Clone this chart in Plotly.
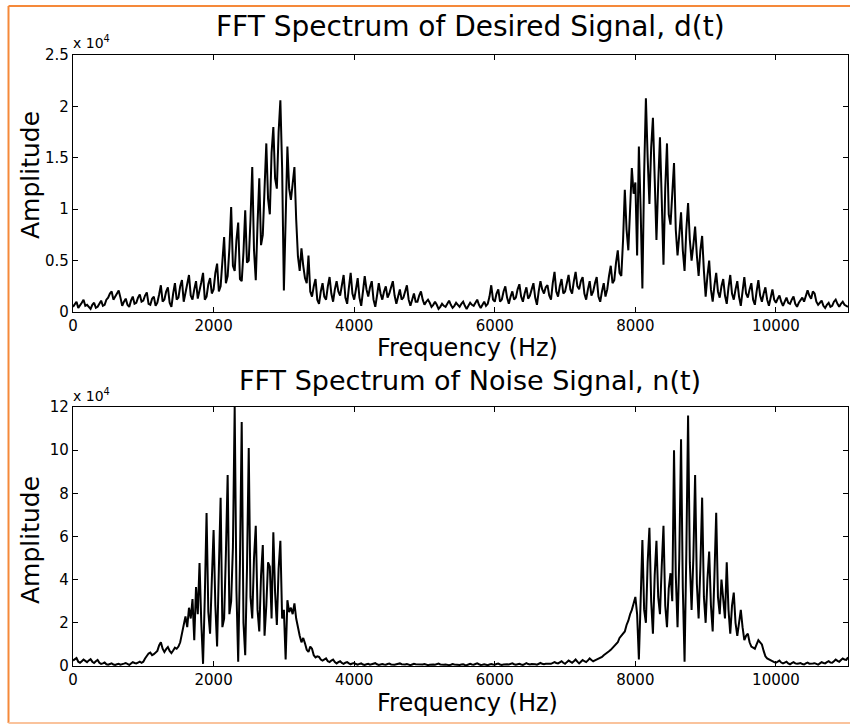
import plotly.graph_objects as go

W, H = 850, 725
FREQ_STEP = 25  # Hz between spectrum bins

# FFT amplitude of desired signal d(t), units of 1e4, bins 0..11025 Hz every 25 Hz (20 per row = 500 Hz)
desired_amp = [
    0.05, 0.08, 0.10, 0.04, 0.06, 0.09, 0.12, 0.06, 0.07, 0.05, 0.03, 0.07, 0.09, 0.04, 0.05, 0.08, 0.11, 0.06, 0.07, 0.12,
    0.14, 0.18, 0.20, 0.12, 0.15, 0.19, 0.21, 0.14, 0.06, 0.10, 0.13, 0.07, 0.05, 0.11, 0.15, 0.08, 0.09, 0.14, 0.17, 0.10,
    0.11, 0.16, 0.19, 0.08, 0.07, 0.13, 0.15, 0.06, 0.09, 0.17, 0.26, 0.10, 0.12, 0.20, 0.24, 0.09, 0.05, 0.18, 0.28, 0.12,
    0.14, 0.25, 0.31, 0.10, 0.18, 0.28, 0.36, 0.16, 0.12, 0.22, 0.30, 0.13, 0.20, 0.29, 0.38, 0.12, 0.15, 0.27, 0.33, 0.18,
    0.22, 0.38, 0.47, 0.20, 0.25, 0.55, 0.73, 0.28, 0.35, 0.62, 1.02, 0.45, 0.40, 0.70, 0.87, 0.32, 0.30, 0.58, 0.99, 0.48,
    0.50, 0.90, 1.41, 0.60, 0.31, 0.85, 1.30, 0.65, 0.75, 1.20, 1.64, 1.10, 0.95, 1.55, 1.80, 1.30, 1.20, 1.75, 2.06, 1.40,
    0.21, 0.90, 1.61, 1.20, 1.09, 1.25, 1.41, 0.90, 0.54, 0.40, 0.62, 0.45, 0.33, 0.28, 0.55, 0.20, 0.15, 0.25, 0.32, 0.12,
    0.08, 0.20, 0.28, 0.15, 0.12, 0.25, 0.34, 0.18, 0.10, 0.22, 0.30, 0.20, 0.16, 0.26, 0.36, 0.14, 0.08, 0.24, 0.38, 0.18,
    0.12, 0.22, 0.33, 0.14, 0.06, 0.20, 0.35, 0.22, 0.15, 0.24, 0.30, 0.12, 0.05, 0.16, 0.28, 0.18, 0.12, 0.20, 0.25, 0.14,
    0.18, 0.24, 0.30, 0.16, 0.08, 0.15, 0.22, 0.12, 0.14, 0.20, 0.26, 0.12, 0.06, 0.12, 0.18, 0.10, 0.10, 0.16, 0.20, 0.12,
    0.07, 0.10, 0.12, 0.09, 0.05, 0.07, 0.10, 0.07, 0.03, 0.05, 0.08, 0.06, 0.05, 0.08, 0.11, 0.07, 0.04, 0.06, 0.09, 0.07,
    0.05, 0.08, 0.10, 0.06, 0.03, 0.06, 0.09, 0.07, 0.06, 0.09, 0.12, 0.07, 0.04, 0.07, 0.10, 0.06, 0.08, 0.15, 0.26, 0.12,
    0.10, 0.18, 0.22, 0.10, 0.12, 0.20, 0.25, 0.14, 0.08, 0.15, 0.20, 0.12, 0.14, 0.22, 0.27, 0.15, 0.10, 0.18, 0.24, 0.13,
    0.16, 0.22, 0.28, 0.14, 0.07, 0.20, 0.30, 0.22, 0.18, 0.24, 0.26, 0.16, 0.12, 0.28, 0.39, 0.20, 0.15, 0.25, 0.32, 0.18,
    0.20, 0.28, 0.36, 0.22, 0.18, 0.30, 0.39, 0.25, 0.22, 0.30, 0.34, 0.18, 0.12, 0.22, 0.30, 0.16, 0.20, 0.28, 0.34, 0.15,
    0.10, 0.20, 0.28, 0.15, 0.22, 0.35, 0.45, 0.28, 0.31, 0.48, 0.60, 0.38, 0.35, 0.70, 1.19, 0.80, 0.60, 1.00, 1.40, 1.15,
    1.26, 0.55, 1.61, 1.00, 0.23, 1.35, 2.08, 1.50, 1.05, 1.60, 1.89, 1.30, 0.70, 1.25, 1.70, 1.10, 0.46, 1.20, 1.64, 0.95,
    0.85, 1.15, 1.45, 0.80, 0.55, 0.75, 0.97, 0.60, 0.40, 0.80, 1.06, 0.70, 0.50, 0.65, 0.83, 0.55, 0.35, 0.60, 0.74, 0.40,
    0.15, 0.35, 0.50, 0.22, 0.10, 0.26, 0.38, 0.20, 0.14, 0.25, 0.32, 0.16, 0.08, 0.24, 0.36, 0.18, 0.12, 0.22, 0.30, 0.15,
    0.06, 0.20, 0.34, 0.18, 0.14, 0.22, 0.28, 0.12, 0.07, 0.20, 0.31, 0.16, 0.10, 0.18, 0.24, 0.12, 0.06, 0.14, 0.22, 0.12,
    0.09, 0.13, 0.16, 0.10, 0.06, 0.10, 0.14, 0.09, 0.08, 0.12, 0.15, 0.08, 0.05, 0.09, 0.12, 0.14, 0.10, 0.17, 0.21, 0.16,
    0.13, 0.20, 0.18, 0.10, 0.07, 0.09, 0.11, 0.06, 0.04, 0.07, 0.09, 0.05, 0.06, 0.10, 0.12, 0.08, 0.05, 0.08, 0.10, 0.07,
    0.06, 0.05,
]

# FFT amplitude of noise signal n(t), units of 1e4, same bins
noise_amp = [
    0.25, 0.30, 0.37, 0.20, 0.15, 0.22, 0.30, 0.24, 0.18, 0.26, 0.32, 0.20, 0.14, 0.22, 0.28, 0.15, 0.10, 0.12, 0.16, 0.08,
    0.06, 0.09, 0.12, 0.07, 0.05, 0.08, 0.10, 0.06, 0.07, 0.11, 0.14, 0.08, 0.05, 0.12, 0.18, 0.14, 0.12, 0.16, 0.20, 0.15,
    0.20, 0.35, 0.50, 0.58, 0.62, 0.50, 0.55, 0.65, 0.70, 0.95, 1.10, 0.80, 0.65, 0.78, 0.88, 0.70, 0.60, 0.72, 0.85, 0.80,
    0.90, 1.10, 1.50, 1.90, 2.30, 1.80, 2.70, 2.20, 3.10, 1.20, 3.66, 2.40, 4.77, 2.00, 0.10, 3.20, 7.09, 2.50, 1.50, 4.00,
    6.30, 2.80, 0.90, 4.50, 7.80, 1.80, 2.20, 5.20, 8.85, 2.40, 3.00, 5.50, 12.0, 3.50, 0.20, 4.80, 11.3, 2.00, 0.50, 4.50,
    10.1, 3.20, 2.20, 5.00, 6.50, 2.60, 1.60, 4.20, 5.60, 1.40, 2.80, 4.80, 4.60, 2.20, 6.20, 3.40, 1.90, 4.50, 5.80, 2.20,
    2.60, 0.30, 3.05, 2.50, 2.70, 2.40, 2.90, 2.20, 1.70, 1.40, 1.10, 1.30, 1.05, 0.75, 0.65, 0.90, 0.80, 0.50, 0.40, 0.45,
    0.42, 0.30, 0.25, 0.32, 0.35, 0.22, 0.18, 0.25, 0.30, 0.18, 0.12, 0.18, 0.22, 0.14, 0.10, 0.15, 0.18, 0.12, 0.08, 0.12,
    0.14, 0.09, 0.06, 0.10, 0.12, 0.07, 0.05, 0.08, 0.10, 0.06, 0.08, 0.11, 0.13, 0.08, 0.05, 0.07, 0.09, 0.07, 0.06, 0.09,
    0.11, 0.07, 0.05, 0.06, 0.08, 0.10, 0.12, 0.08, 0.06, 0.07, 0.09, 0.06, 0.04, 0.07, 0.10, 0.08, 0.07, 0.06, 0.05, 0.07,
    0.09, 0.06, 0.04, 0.06, 0.08, 0.07, 0.06, 0.09, 0.11, 0.07, 0.05, 0.06, 0.07, 0.05, 0.04, 0.06, 0.09, 0.07, 0.06, 0.05,
    0.05, 0.07, 0.08, 0.05, 0.04, 0.07, 0.10, 0.07, 0.06, 0.09, 0.12, 0.08, 0.05, 0.06, 0.08, 0.06, 0.04, 0.07, 0.09, 0.07,
    0.06, 0.09, 0.11, 0.07, 0.05, 0.07, 0.09, 0.08, 0.07, 0.10, 0.12, 0.08, 0.06, 0.08, 0.10, 0.07, 0.05, 0.09, 0.13, 0.09,
    0.07, 0.09, 0.10, 0.08, 0.06, 0.10, 0.14, 0.10, 0.08, 0.10, 0.12, 0.11, 0.10, 0.14, 0.18, 0.14, 0.12, 0.17, 0.22, 0.15,
    0.10, 0.18, 0.25, 0.20, 0.15, 0.22, 0.30, 0.20, 0.12, 0.20, 0.28, 0.22, 0.18, 0.26, 0.35, 0.28, 0.22, 0.26, 0.30, 0.32,
    0.35, 0.42, 0.50, 0.55, 0.60, 0.68, 0.75, 0.85, 0.90, 1.00, 1.10, 1.30, 1.40, 1.50, 1.60, 1.90, 2.10, 2.40, 2.60, 2.90,
    3.20, 2.40, 0.30, 3.00, 5.84, 2.60, 2.00, 4.80, 6.40, 3.00, 1.50, 4.20, 5.80, 3.20, 2.40, 4.60, 6.50, 2.80, 1.80, 3.60,
    4.30, 3.00, 10.0, 4.20, 1.80, 5.00, 10.5, 3.60, 0.20, 5.20, 11.6, 4.80, 2.60, 5.00, 8.85, 3.80, 2.20, 4.60, 7.80, 3.20,
    2.00, 4.00, 5.30, 2.80, 1.60, 4.20, 7.10, 3.20, 2.40, 4.00, 3.00, 2.20, 4.80, 2.60, 1.50, 2.80, 3.40, 2.00, 1.40, 2.10,
    2.60, 1.80, 1.20, 1.40, 1.50, 1.10, 0.90, 0.85, 0.80, 1.00, 1.20, 1.10, 1.00, 0.70, 0.45, 0.35, 0.30, 0.25, 0.22, 0.18,
    0.15, 0.20, 0.25, 0.16, 0.12, 0.16, 0.20, 0.12, 0.08, 0.13, 0.18, 0.12, 0.10, 0.12, 0.14, 0.09, 0.07, 0.12, 0.16, 0.11,
    0.10, 0.12, 0.13, 0.09, 0.06, 0.12, 0.18, 0.14, 0.12, 0.18, 0.22, 0.16, 0.15, 0.22, 0.30, 0.24, 0.20, 0.28, 0.35, 0.30,
    0.28, 0.40,
]

x_ticks = [0, 2000, 4000, 6000, 8000, 10000]
x_ticklabels = ["0", "2000", "4000", "6000", "8000", "10000"]
top_y_ticks = [0, 0.5, 1, 1.5, 2, 2.5]
top_y_ticklabels = ["0", "0.5", "1", "1.5", "2", "2.5"]
bot_y_ticks = [0, 2, 4, 6, 8, 10, 12]
bot_y_ticklabels = ["0", "2", "4", "6", "8", "10", "12"]

freqs = [i * FREQ_STEP for i in range(len(desired_amp))]
freqs_n = [i * FREQ_STEP for i in range(len(noise_amp))]


def px(x):
    return x / W


def py(y):
    return 1 - y / H


FONT = "DejaVu Sans"

fig = go.Figure()
fig.add_trace(go.Scatter(x=freqs, y=desired_amp, mode="lines",
                         line=dict(color="black", width=2),
                         xaxis="x", yaxis="y", showlegend=False, hoverinfo="skip"))
fig.add_trace(go.Scatter(x=freqs_n, y=noise_amp, mode="lines",
                         line=dict(color="black", width=2),
                         xaxis="x2", yaxis="y2", showlegend=False, hoverinfo="skip"))

axis_common = dict(showline=True, linecolor="black", linewidth=1.3, mirror="ticks",
                   ticks="inside", ticklen=5, tickcolor="black", showgrid=False,
                   zeroline=False, automargin=False,
                   tickfont=dict(family=FONT, size=15, color="black"))

fig.update_layout(
    width=W, height=H,
    margin=dict(l=0, r=0, t=0, b=0, pad=0),
    paper_bgcolor="white", plot_bgcolor="white",
    font=dict(family=FONT, color="black"),
    xaxis=dict(domain=[px(73), px(848)], range=[0, 11025], anchor="y",
               tickvals=x_ticks, ticktext=x_ticklabels, **axis_common),
    yaxis=dict(domain=[py(312), py(55)], range=[0, 2.5], anchor="x",
               tickvals=top_y_ticks, ticktext=top_y_ticklabels, **axis_common),
    xaxis2=dict(domain=[px(73), px(848)], range=[0, 11025], anchor="y2",
                tickvals=x_ticks, ticktext=x_ticklabels, **axis_common),
    yaxis2=dict(domain=[py(666), py(407)], range=[0, 12], anchor="x2",
                tickvals=bot_y_ticks, ticktext=bot_y_ticklabels, **axis_common),
)

ann = []
def add_text(text, x, y, size, xanchor="center", **kw):
    ann.append(dict(text=text, x=px(x), y=py(y), xref="paper", yref="paper",
                    xanchor=xanchor, yanchor="middle",
                    showarrow=False, font=dict(family=FONT, size=size, color="black"), **kw))

add_text("FFT Spectrum of Desired Signal, d(t)", 470, 26, 28)
add_text("FFT Spectrum of Noise Signal, n(t)", 470, 380, 27)
add_text("Frequency (Hz)", 468, 348, 24)
add_text("Frequency (Hz)", 468, 703, 24)
add_text("Amplitude", 30, 175, 25, textangle=-90)
add_text("Amplitude", 30, 540, 25, textangle=-90)
add_text("x 10<sup>4</sup>", 71, 42, 14, xanchor="left")
add_text("x 10<sup>4</sup>", 71, 395, 14, xanchor="left")
fig.update_layout(annotations=ann)

fig.update_layout(shapes=[
    dict(type="line", xref="paper", yref="paper", x0=px(8.5), x1=px(8.5), y0=py(6), y1=py(723),
         line=dict(color="#F5893A", width=2)),
    dict(type="line", xref="paper", yref="paper", x0=px(8.5), x1=1, y0=py(6), y1=py(6),
         line=dict(color="#F5893A", width=2)),
    dict(type="line", xref="paper", yref="paper", x0=px(8.5), x1=1, y0=py(723), y1=py(723),
         line=dict(color="#FAC39C", width=2)),
])

fig.write_html("out.html", config={"displayModeBar": False},
               post_script="document.body.style.margin='0';document.body.style.overflow='hidden';")
